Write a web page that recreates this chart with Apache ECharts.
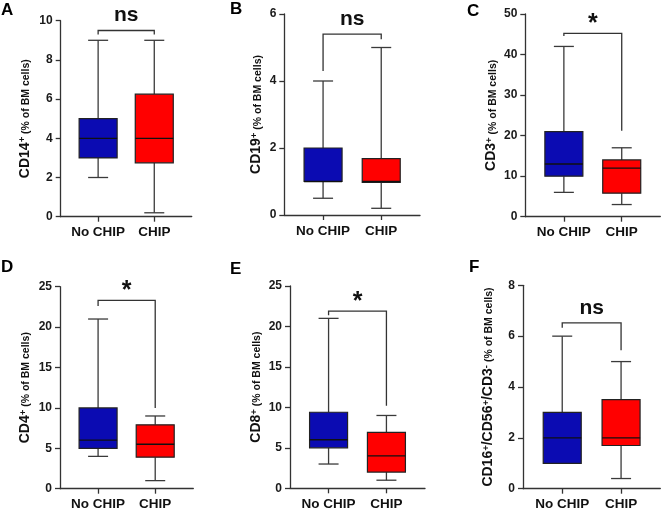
<!DOCTYPE html>
<html><head><meta charset="utf-8">
<script src="https://cdn.jsdelivr.net/npm/echarts@6/dist/echarts.min.js"></script>
<style>html,body{margin:0;padding:0;background:#fff}#c{width:663px;height:512px}</style>
</head><body><div id="c"></div>
<script>
// ---- data ----
const categories = ['No CHIP', 'CHIP'];
const panelLetters = ['A', 'B', 'C', 'D', 'E', 'F'];
const sigLabels = ['ns', 'ns', '*', '*', '*', 'ns'];

// [min, Q1, median, Q3, max]
const A_noChip = [2, 3, 4, 5, 9];
const A_chip = [0.2, 2.75, 4, 6.25, 9];
const B_noChip = [0.5, 1, 1, 2, 4];
const B_chip = [0.2, 0.97, 1, 1.68, 5];
const C_noChip = [6, 10, 13, 21, 42];
const C_chip = [3, 5.8, 12, 14, 17];
const D_noChip = [4, 5, 6, 10, 21];
const D_chip = [1, 3.9, 5.5, 7.9, 9];
const E_noChip = [3, 5, 6, 9.4, 21];
const E_chip = [1, 2, 4, 6.9, 9];
const F_noChip = [1, 1, 2, 3, 6];
const F_chip = [0.4, 1.7, 2, 3.5, 5];

// significance bracket [top, left leg end, right leg end]
const A_bracket = [9.5, 9.3, 9.3];
const B_bracket = [5.4, 4.3, 5.25];
const C_bracket = [45.2, 44.6, 21.2];
const D_bracket = [23.3, 22.6, 10];
const E_bracket = [21.9, 21.4, 10.2];
const F_bracket = [6.52, 6.33, 5.45];

// y tick labels
const A_yTicks = [0, 2, 4, 6, 8, 10];
const B_yTicks = [0, 2, 4, 6];
const C_yTicks = [0, 10, 20, 30, 40, 50];
const D_yTicks = [0, 5, 10, 15, 20, 25];
const E_yTicks = [0, 5, 10, 15, 20, 25];
const F_yTicks = [0, 2, 4, 6, 8];

// y axis titles
const A_yName = '{main|CD14}{sup|+}{sub| (% of BM cells)}';
const B_yName = '{main|CD19}{sup|+}{sub| (% of BM cells)}';
const C_yName = '{main|CD3}{sup|+}{sub| (% of BM cells)}';
const D_yName = '{main|CD4}{sup|+}{sub| (% of BM cells)}';
const E_yName = '{main|CD8}{sup|+}{sub| (% of BM cells)}';
const F_yName = '{main|CD16}{sup|+}{main|/CD56}{sup|+}{main|/CD3}{sup|-}{sub| (% of BM cells)}';

// ---- styling / layout ----
const FONT = "'Liberation Sans', Arial, Helvetica, sans-serif";
const COLORS = ['#0b0bb2', '#ff0000'];
const SLOT_COUNT = 8, SLOT_NO = 2, SLOT_YES = 5;
const BOX_W = 38, CAP_W = 20;
const layout = [
  {left: 60.7, top: 20.7, width: 131, height: 196, gap: 29, lx: 1, ly: 2},
  {left: 284.3, top: 14, width: 135.7, height: 201, gap: 21, lx: 230, ly: 1},
  {left: 525.3, top: 14, width: 135, height: 202.7, gap: 27, lx: 467, ly: 3},
  {left: 60, top: 286.7, width: 133.3, height: 202, gap: 28, lx: 1, ly: 259},
  {left: 290, top: 286, width: 135, height: 202.3, gap: 27, lx: 230, ly: 261},
  {left: 523, top: 285.3, width: 137.3, height: 203.4, gap: 28, lx: 469, ly: 259}
];
const panels = [
  {noChip: A_noChip, chip: A_chip, bracket: A_bracket, ticks: A_yTicks, name: A_yName},
  {noChip: B_noChip, chip: B_chip, bracket: B_bracket, ticks: B_yTicks, name: B_yName},
  {noChip: C_noChip, chip: C_chip, bracket: C_bracket, ticks: C_yTicks, name: C_yName},
  {noChip: D_noChip, chip: D_chip, bracket: D_bracket, ticks: D_yTicks, name: D_yName},
  {noChip: E_noChip, chip: E_chip, bracket: E_bracket, ticks: E_yTicks, name: E_yName},
  {noChip: F_noChip, chip: F_chip, bracket: F_bracket, ticks: F_yTicks, name: F_yName}
];

const slots = [];
for (let i = 0; i < SLOT_COUNT; i++) slots.push('');
slots[SLOT_NO] = categories[0];
slots[SLOT_YES] = categories[1];

const AX = '#333';
const WHISK = '#3a3a3a';

function renderBox(params, api) {
  const slot = api.value(0);
  const pMin = api.coord([slot, api.value(1)]);
  const pQ1 = api.coord([slot, api.value(2)]);
  const pMed = api.coord([slot, api.value(3)]);
  const pQ3 = api.coord([slot, api.value(4)]);
  const pMax = api.coord([slot, api.value(5)]);
  const color = COLORS[api.value(6)];
  const x = pMin[0], hw = BOX_W / 2, cw = CAP_W / 2;
  const ls = {stroke: WHISK, lineWidth: 1.3};
  return {type: 'group', children: [
    {type: 'line', shape: {x1: x, y1: pMax[1], x2: x, y2: pQ3[1]}, style: ls},
    {type: 'line', shape: {x1: x, y1: pQ1[1], x2: x, y2: pMin[1]}, style: ls},
    {type: 'line', shape: {x1: x - cw, y1: pMax[1], x2: x + cw, y2: pMax[1]}, style: ls},
    {type: 'line', shape: {x1: x - cw, y1: pMin[1], x2: x + cw, y2: pMin[1]}, style: ls},
    {type: 'rect', shape: {x: x - hw, y: pQ3[1], width: BOX_W, height: pQ1[1] - pQ3[1]},
      style: {fill: color, stroke: '#222', lineWidth: 1.2}},
    {type: 'line', shape: {x1: x - hw, y1: pMed[1], x2: x + hw, y2: pMed[1]},
      style: {stroke: '#111', lineWidth: 1.3}}
  ]};
}

function renderBracket(params, api) {
  const s0 = api.value(0), s1 = api.value(1);
  const top = api.value(2), le = api.value(3), re = api.value(4);
  const p1 = api.coord([s0, le]), p2 = api.coord([s0, top]);
  const p3 = api.coord([s1, top]), p4 = api.coord([s1, re]);
  const label = sigLabels[params.seriesIndex / 2 | 0];
  const isStar = label === '*';
  return {type: 'group', children: [
    {type: 'polyline', shape: {points: [p1, p2, p3, p4]},
      style: {stroke: '#333', lineWidth: 1.3, fill: null}},
    {type: 'text', x: (p2[0] + p3[0]) / 2, y: p2[1] - (isStar ? 9 : 15),
      style: {text: label, fill: '#111', font: 'bold ' + (isStar ? 25 : 21) + 'px ' + FONT,
        align: 'center', verticalAlign: 'middle'}}
  ]};
}

const grid = [], xAxis = [], yAxis = [], series = [], graphic = [];
panels.forEach((p, i) => {
  const L = layout[i];
  grid.push({left: L.left, top: L.top, width: L.width, height: L.height});
  xAxis.push({
    type: 'category', gridIndex: i, data: slots, boundaryGap: false,
    axisLine: {lineStyle: {color: AX, width: 1.3}},
    axisTick: {interval: (idx, v) => v !== '', length: 5, lineStyle: {color: AX, width: 1.3}},
    axisLabel: {interval: (idx, v) => v !== '', margin: 9, color: '#111',
      fontFamily: FONT, fontWeight: 'bold', fontSize: 13.5},
    splitLine: {show: false}
  });
  const t = p.ticks;
  yAxis.push({
    type: 'value', gridIndex: i, min: t[0], max: t[t.length - 1], interval: t[1] - t[0],
    axisLine: {show: true, lineStyle: {color: AX, width: 1.3}},
    axisTick: {show: true, length: 5, lineStyle: {color: AX, width: 1.3}},
    axisLabel: {margin: 8, color: '#1a1a1a', fontFamily: FONT, fontWeight: 'bold', fontSize: 12},
    splitLine: {show: false},
    name: p.name, nameLocation: 'middle', nameRotate: 90, nameGap: L.gap,
    nameTextStyle: {
      color: '#111', fontFamily: FONT,
      rich: {
        main: {fontSize: 14, fontWeight: 'bold', fontFamily: FONT, color: '#111'},
        sup: {fontSize: 9.5, fontWeight: 'bold', fontFamily: FONT, color: '#111', verticalAlign: 'top'},
        sub: {fontSize: 10.5, fontWeight: 'bold', fontFamily: FONT, color: '#111', verticalAlign: 'bottom'}
      }
    }
  });
  series.push({
    type: 'custom', xAxisIndex: i, yAxisIndex: i, renderItem: renderBox,
    encode: {x: 0, y: [1, 2, 3, 4, 5]},
    data: [[SLOT_NO].concat(p.noChip, [0]), [SLOT_YES].concat(p.chip, [1])],
    silent: true, animation: false
  });
  series.push({
    type: 'custom', xAxisIndex: i, yAxisIndex: i, renderItem: renderBracket,
    encode: {x: [0, 1], y: [2, 3, 4]},
    data: [[SLOT_NO, SLOT_YES].concat(p.bracket)],
    silent: true, animation: false
  });
  graphic.push({type: 'text', left: L.lx, top: L.ly,
    style: {text: panelLetters[i], font: 'bold 17px ' + FONT, fill: '#000'}});
});

const chart = echarts.init(document.getElementById('c'), null, {renderer: 'canvas'});
chart.setOption({
  backgroundColor: '#fff', animation: false,
  grid, xAxis, yAxis, series, graphic
});
</script></body></html>
